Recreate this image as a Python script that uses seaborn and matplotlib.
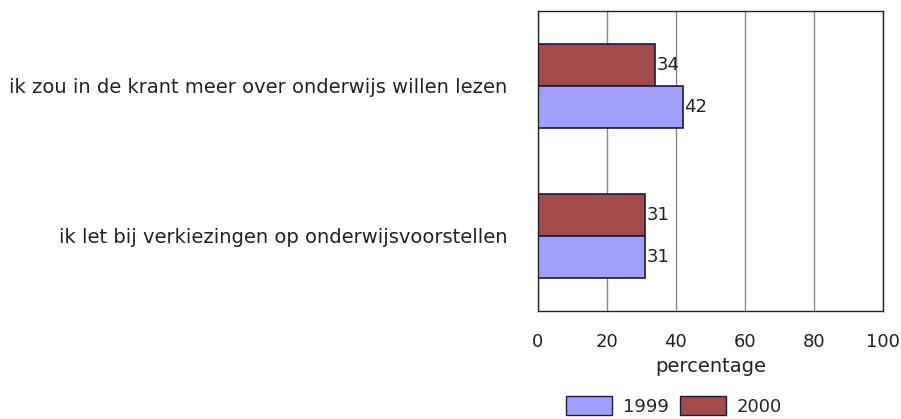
import pandas as pd
import seaborn as sns
import matplotlib.pyplot as plt
from matplotlib.patches import Patch
from matplotlib.ticker import MultipleLocator, FixedLocator

# data
statements = ['ik zou in de krant meer over onderwijs willen lezen',
              'ik let bij verkiezingen op onderwijsvoorstellen']
years = ['1999', '2000']
values_1999 = [42, 31]
values_2000 = [34, 31]

colors = {'1999': '#a0a0fc', '2000': '#a34a4a'}

df = pd.DataFrame({
    'statement': statements * 2,
    'year': ['1999'] * 2 + ['2000'] * 2,
    'percentage': values_1999 + values_2000,
})

sns.set_style('white')
plt.rcParams['font.family'] = ['DejaVu Sans']

fig = plt.figure(figsize=(9.01, 4.19), dpi=100)
ax = fig.add_axes([0.597, 0.258, 0.383, 0.716])

sns.barplot(data=df, y='statement', x='percentage', hue='year',
            hue_order=['2000', '1999'], order=statements, palette=colors,
            orient='h', width=0.56, edgecolor='#1a1a40', linewidth=1.2,
            saturation=1, ax=ax, legend=False)

# value labels right of each bar
for container in ax.containers:
    ax.bar_label(container, padding=1, fontsize=13, color='#222222')

ax.set_xlim(0, 100)
ax.set_ylim(1.5, -0.5)
ax.xaxis.set_major_locator(MultipleLocator(20))
ax.xaxis.set_minor_locator(MultipleLocator(10))
ax.grid(axis='x', which='major', color='#888888', linewidth=1)
ax.set_axisbelow(True)

ax.tick_params(axis='x', which='major', length=4, color='#333333',
               labelsize=13, pad=12, labelcolor='#222222')
ax.tick_params(axis='x', which='minor', length=3, color='#333333')
ax.tick_params(axis='y', which='major', length=0, labelsize=14, pad=22,
               labelcolor='#222222')
ax.yaxis.set_minor_locator(FixedLocator([0.5]))
ax.tick_params(axis='y', which='minor', length=10, direction='inout',
               color='#333333')

ax.set_ylabel('')
ax.set_xlabel('percentage', fontsize=14, labelpad=4, color='#222222')

for side in ['top', 'right', 'left', 'bottom']:
    ax.spines[side].set_visible(True)
    ax.spines[side].set_color('#222222')
    ax.spines[side].set_linewidth(1)

handles = [Patch(facecolor=colors[y], edgecolor='#1a1a40', label=y) for y in years]
fig.legend(handles=handles, loc='center', bbox_to_anchor=(0.748, 0.032),
           ncol=2, frameon=False, fontsize=13, handlelength=2.55,
           handleheight=1.3, columnspacing=0.6, handletextpad=0.6,
           borderpad=0, borderaxespad=0)

fig.savefig('out.png', dpi=100)
